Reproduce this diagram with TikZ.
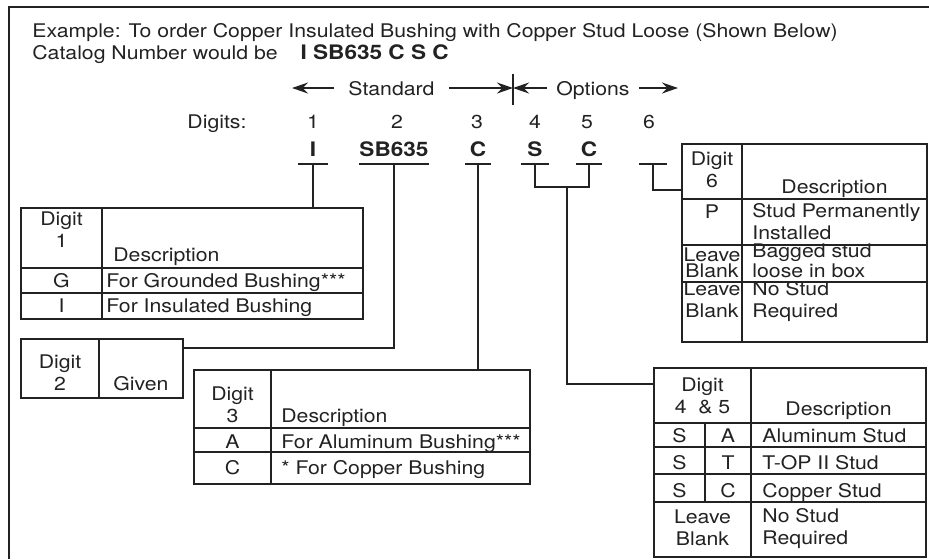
\documentclass[tikz,border=0pt]{standalone}
\usepackage{fontspec}
\setmainfont{TeX Gyre Heros}[FakeStretch=1.13]
\usetikzlibrary{arrows.meta,positioning}
\definecolor{ink}{HTML}{222222}
\tikzset{
  frame/.style={draw=ink,line width=1.2pt},
  lead/.style={draw=ink,line width=0.8pt},
  gl/.style={draw=ink,line width=0.8pt},
  tbl/.style n args={2}{draw=ink,line width=0.8pt,anchor=north west,inner sep=0pt,
    outer sep=0pt,minimum width=#1,minimum height=#2},
  code/.style={font=\bfseries,text height=6.8pt,text depth=0pt,inner xsep=0pt,
    inner ysep=3.5pt,minimum width=#1,anchor=south},
  arr/.style={-{Stealth[length=8pt,width=5.5pt]},line width=0.8pt,draw=ink},
  lbl/.style={anchor=base,inner xsep=7pt},
  cell/.style={anchor=base,inner sep=0pt,align=center},
  desc/.style={anchor=base west,inner sep=0pt,align=left},
  tight/.style={font=\fontsize{9.4}{8}\selectfont},
}

\begin{document}
\begin{tikzpicture}[x=0.5pt,y=-0.5pt,font=\fontsize{9.4}{10.8}\selectfont,text=ink]
  \useasboundingbox (0,0) rectangle (929,559);
  \draw[frame] (929,7) -- (9,7) -- (9,559);

  % heading
  \node[anchor=base west,inner sep=0pt] (ttl) at (32,37)
    {Example: To order Copper Insulated Bushing with Copper Stud Loose (Shown Below)};
  \node[anchor=base west,inner sep=0pt] (cat) at (32,59) {Catalog Number would be};
  \node[base right=11pt of cat,inner sep=0pt,font=\bfseries] (catno) {I SB635 C S C};

  % standard / options
  \coordinate (al) at (292,88);
  \coordinate (bar) at (513,88);
  \coordinate (ar) at (678,88);
  \node[lbl] (std) at (391.5,95) {Standard};
  \node[lbl,inner xsep=4.5pt] (opt) at (593,95) {Options};
  \draw[arr] (std.west |- bar) -- (al);
  \draw[arr] (std.east |- bar) -- (bar);
  \draw[arr] (opt.west |- bar) -- (bar);
  \draw[arr] (opt.east |- bar) -- (ar);
  \draw[lead] ([yshift=7pt]bar) -- ([yshift=-8.5pt]bar);

  % digits and code letters
  \node[anchor=base] (dlab) at (217,128) {Digits:};
  \foreach \i/\x in {1/313,2/397,3/477,4/535,5/587,6/649}
    \node[anchor=base] (d\i) at (\x,128) {\i};
  \foreach \n/\x/\w/\t in {1/313/14.5/I,2/394/32.5/SB635,3/478/12.5/C,4/535/14/S,5/589/13/C,6/653/14/{}}
    \node[code=\w pt] (c\n) at (\x,164) {\t};
  \foreach \n in {1,...,6}
    \draw[lead] (c\n.south west) -- (c\n.south east);

  % tables
  \node[tbl={171pt}{55.5pt}] (t1) at (21,208) {};
  \node[tbl={81pt}{29.5pt}] (t2) at (21,339) {};
  \node[tbl={168pt}{57pt}] (t3) at (194,370) {};
  \node[tbl={136pt}{94.5pt}] (t45) at (654,368) {};
  \node[tbl={122.5pt}{99pt}] (t6) at (682,144) {};

  \draw[gl] (102,208) -- (102,319);
  \foreach \y in {268,293} \draw[gl] (21,\y) -- (363,\y);
  \draw[gl] (99,339) -- (99,398);
  \draw[gl] (271,370) -- (271,484);
  \foreach \y in {428,452} \draw[gl] (194,\y) -- (530,\y);
  \draw[gl] (751,368) -- (751,557);
  \draw[gl] (705,423) -- (705,502);
  \foreach \y in {423,447,474,502} \draw[gl] (654,\y) -- (926,\y);
  \draw[gl] (742,144) -- (742,342);
  \foreach \y in {199,245,282} \draw[gl] (682,\y) -- (927,\y);

  % connectors
  \draw[lead] (c1.south) -- (c1.south |- t1.north);
  \draw[lead] (c2.south) |- ([yshift=-4.5pt]t2.north east);
  \draw[lead] (c3.south) -- (c3.south |- t3.north);
  \coordinate (j45) at (567,187);
  \draw[lead] (c4.south) |- (j45) -| (c5.south);
  \draw[lead] (j45) |- ([yshift=-8pt]t45.north west);
  \draw[lead] (c6.south) |- ([yshift=-23pt]t6.north west);

  % digit 1
  \node[cell] (t1h) at (61.5,247) {Digit\\1};
  \node[desc] (t1d) at (113,261) {Description};
  \foreach \k/\y/\v/\s in {g/287/G/For Grounded Bushing***,i/312/I/For Insulated Bushing} {
    \node[cell] (t1v\k) at (61.5,\y) {\v};
    \node[desc] (t1s\k) at (106,\y) {\s};
  }
  % digit 2
  \node[cell] (t2h) at (60,390) {Digit\\2};
  \node[desc] (t2d) at (113,390) {Given};
  % digit 3
  \node[cell] (t3h) at (232.5,422) {Digit\\3};
  \node[desc] (t3d) at (281,422) {Description};
  \foreach \k/\y/\v/\s in {a/448/A/For Aluminum Bushing***,c/474/C/* For Copper Bushing} {
    \node[cell] (t3v\k) at (232.5,\y) {\v};
    \node[desc] (t3s\k) at (281,\y) {\s};
  }
  % digits 4 & 5
  \node[cell] (t45h) at (702.5,413) {Digit\\4\ \ \& 5};
  \node[cell] (t45d) at (838.5,415) {Description};
  \foreach \k/\y/\v/\s in {a/442/A/Aluminum Stud,t/469/T/T-OP II Stud,c/497/C/Copper Stud} {
    \node[cell] (t45s\k) at (679.5,\y) {S};
    \node[cell] (t45v\k) at (728,\y) {\v};
    \node[desc] (t45t\k) at (762,\y) {\s};
  }
  \node[cell] (t45l) at (702.5,545) {Leave\\Blank};
  \node[desc] (t45n) at (762,544) {No Stud\\Required};
  % digit 6
  \node[cell] (t6h) at (712,187) {Digit\\6};
  \node[cell] (t6d) at (834.5,193) {Description};
  \node[cell] (t6p) at (712,218) {P};
  \node[desc] (t6ps) at (752,239) {Stud Permanently\\Installed};
  \node[cell,tight] (t6l1) at (712,277) {Leave\\Blank};
  \node[desc,tight] (t6b) at (752,277) {Bagged stud\\loose in box};
  \node[cell] (t6l2) at (712,317) {Leave\\Blank};
  \node[desc] (t6n) at (752,317) {No Stud\\Required};
\end{tikzpicture}
\end{document}
